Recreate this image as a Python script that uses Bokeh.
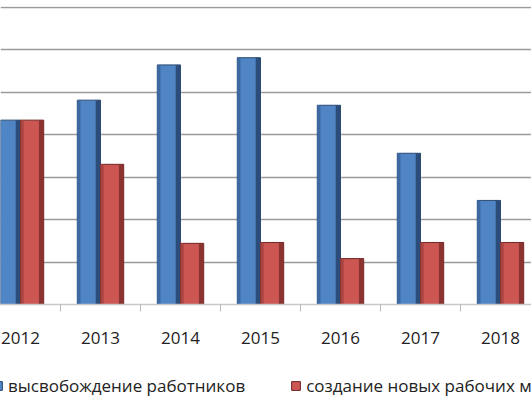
from bokeh.plotting import figure
from bokeh.layouts import column
from bokeh.models import Range1d, FixedTicker, Legend, LegendItem, ColumnDataSource
from bokeh.embed import file_html
from bokeh.resources import INLINE

years = ["2012", "2013", "2014", "2015", "2016", "2017", "2018"]
released = [43.4, 48.1, 56.4, 58.1, 46.9, 35.6, 24.5]
new_jobs = [43.4, 33.0, 14.4, 14.6, 10.8, 14.6, 14.6]
series_names = ["высвобождение работников", "создание новых рабочих мест"]
y_ticks = [0, 10, 20, 30, 40, 50, 60, 70]

idx = list(range(len(years)))
src = ColumnDataSource(dict(
    xb=[i - 0.145 for i in idx], xr=[i + 0.145 for i in idx],
    xbs=[i - 0.145 + 0.115 for i in idx], xrs=[i + 0.145 + 0.115 for i in idx],
    xbl=[i - 0.145 - 0.125 for i in idx], xrl=[i + 0.145 - 0.125 for i in idx],
    b=released, r=new_jobs))

FONT = "Open Sans"
BLUE, BLUE_EDGE, BLUE_DARK, BLUE_MID = "#4f85c4", "#2b4a72", "#2c4d7a", "#3d6aa3"
RED, RED_EDGE, RED_DARK, RED_MID = "#cc5652", "#6e2624", "#8a3331", "#a84543"

xr = Range1d(-0.25, 6.3875)
p = figure(width=531, height=354, output_backend="svg", toolbar_location=None,
           x_range=xr, y_range=Range1d(0, 70.15),
           min_border_left=0, min_border_right=0, min_border_top=6, min_border_bottom=50)
p.outline_line_color = None
p.background_fill_color = "white"
p.border_fill_color = "white"

p.yaxis.visible = False
p.ygrid.ticker = FixedTicker(ticks=y_ticks)
p.ygrid.grid_line_color = "#9a9a9a"
p.ygrid.grid_line_width = 1.3
p.xgrid.visible = False

ax = p.xaxis[0]
ax.ticker = FixedTicker(ticks=idx, minor_ticks=[i + 0.5 for i in idx])
ax.major_label_overrides = {i: y for i, y in enumerate(years)}
ax.major_tick_line_color = None
ax.major_tick_out = 0
ax.minor_tick_line_color = "#b8b8b8"
ax.minor_tick_out = 7
ax.minor_tick_in = 0
ax.axis_line_color = "#c8c8c8"
ax.axis_line_width = 1.5
ax.major_label_text_font = FONT
ax.major_label_text_font_size = "17px"
ax.major_label_text_color = "#222222"
ax.major_label_standoff = 20

def bars(fig):
    rb = fig.vbar(x="xb", top="b", width=0.29, source=src, fill_color=BLUE, line_color=BLUE_EDGE, line_width=1)
    fig.vbar(x="xbs", top="b", width=0.06, source=src, fill_color=BLUE_DARK, line_color=None)
    fig.vbar(x="xbl", top="b", width=0.04, source=src, fill_color=BLUE_MID, line_color=None)
    rr = fig.vbar(x="xr", top="r", width=0.29, source=src, fill_color=RED, line_color=RED_EDGE, line_width=1)
    fig.vbar(x="xrs", top="r", width=0.06, source=src, fill_color=RED_DARK, line_color=None)
    fig.vbar(x="xrl", top="r", width=0.04, source=src, fill_color=RED_MID, line_color=None)
    return rb, rr

bars(p)

# legend strip below the chart
pl = figure(width=531, height=43, output_backend="svg", toolbar_location=None,
            x_range=xr, y_range=Range1d(1000, 1001),
            min_border_left=0, min_border_right=0, min_border_top=0, min_border_bottom=0)
pl.axis.visible = False
pl.grid.visible = False
pl.outline_line_color = None
pl.background_fill_color = "white"
pl.border_fill_color = "white"
lb = pl.vbar(x="xb", top="b", width=0.29, source=src, fill_color=BLUE, line_color=BLUE_EDGE, line_width=1)
lr = pl.vbar(x="xr", top="r", width=0.29, source=src, fill_color=RED, line_color=RED_EDGE, line_width=1)

legend = Legend(items=[LegendItem(label=series_names[0], renderers=[lb]),
                       LegendItem(label=series_names[1], renderers=[lr])],
                orientation="horizontal", location=(-8, 0),
                border_line_color=None, background_fill_alpha=0,
                glyph_width=11, glyph_height=11, label_standoff=5, spacing=45,
                padding=0, margin=0, label_text_font=FONT, label_text_font_size="17px",
                label_text_color="#222222", label_height=20)
pl.add_layout(legend)

layout = column(p, pl, spacing=0)
open("out.html", "w").write(file_html(layout, INLINE))
